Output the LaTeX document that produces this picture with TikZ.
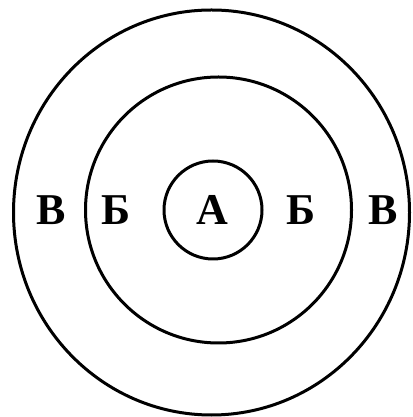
\documentclass[tikz,border=0pt]{standalone}
\usepackage{fontspec}
\setmainfont{Liberation Serif}
\begin{document}
\begin{tikzpicture}[x=1pt,y=1pt,
  ring/.style={draw, line width=3pt},
  lbl/.style={font=\fontsize{44}{46}\selectfont\bfseries, inner sep=0pt}]
\useasboundingbox (0,0) rectangle (412,417);
\draw[ring] (211.5,204.5) ellipse [x radius=198, y radius=202.5];
\draw[ring] (218.5,207) circle [radius=133];
\draw[ring] (213,207) circle [radius=49];
\node[lbl] (v1) at (51,207) {В};
\node[lbl] (b1) at (116,207) {Б};
\node[lbl] (a) at (212.5,207) {А};
\node[lbl] (b2) at (301,207) {Б};
\node[lbl] (v2) at (383,207) {В};
\end{tikzpicture}
\end{document}
